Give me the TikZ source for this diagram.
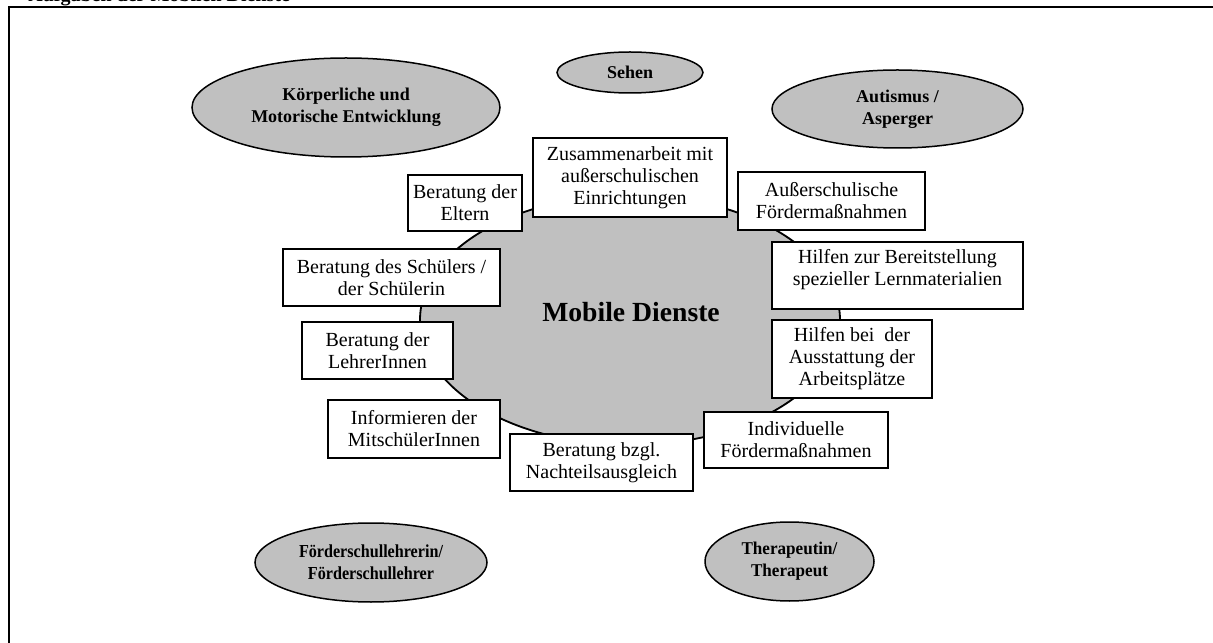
\documentclass[tikz,border=0pt]{standalone}
\usepackage{fontspec}
\setmainfont{Liberation Serif}
\newfontfamily\condA{Liberation Serif}[FakeStretch=0.88]
\newfontfamily\condB{Liberation Serif}[FakeStretch=0.95]
\usetikzlibrary{shapes.geometric}
\definecolor{fillgray}{RGB}{192,192,192}
\def\px{0.6pt}
\begin{document}
\begin{tikzpicture}[x=0.6pt,y=-0.6pt,
  box/.style={draw=black,line width=1.1pt,fill=white,rectangle,inner sep=0pt,align=center,
    font=\fontsize{12}{13.2}\selectfont},
  oval/.style={draw=black,line width=0.9pt,fill=fillgray,ellipse,inner sep=0pt,align=center,
    font=\fontsize{10.8}{13.4}\selectfont\bfseries},
  frame/.style={draw=black,line width=1.5pt}
]
\useasboundingbox (0,0) rectangle (1213,643);
% outer frame (runs beyond the page to the right and bottom)
\coordinate (fbl) at (9,700);
\coordinate (ftl) at (9,7);
\coordinate (ftr) at (1300,7);
\draw[frame] (fbl) -- (ftl) -- (ftr);
% clipped heading
\node (title) [anchor=base west,inner sep=0pt,font=\fontsize{12}{14}\selectfont\bfseries] at (28,2) {Aufgaben der Mobilen Dienste};

% outer ellipses
\node (koerper) [oval,minimum width=308*\px,minimum height=99*\px] at (346,107.5) {Körperliche und\\Motorische Entwicklung};
\node (sehen) [oval,minimum width=146*\px,minimum height=41*\px] at (630,72.5) {Sehen};
\node (autismus) [oval,minimum width=251*\px,minimum height=78*\px] at (897.5,109) {Autismus /\\Asperger};
\node (foerder) [oval,minimum width=232*\px,minimum height=79*\px,font=\fontsize{11}{13.4}\condA\bfseries] at (371,562.5) {Förderschullehrerin/\\Förderschullehrer};
\node (therapeut) [oval,minimum width=169*\px,minimum height=79*\px,font=\fontsize{10.8}{13.4}\condB\bfseries] at (789.5,561.5) {Therapeutin/\\Therapeut};

% central ellipse
\node (mobile) [draw=black,line width=1.1pt,fill=fillgray,ellipse,inner sep=0pt,minimum width=420*\px,minimum height=250*\px] at (630,320) {};
\node (mobiletxt) [inner sep=0pt,font=\fontsize{16.6}{20}\selectfont\bfseries] at (631,312) {Mobile Dienste};

% boxes
\node (zus) [box,minimum width=194*\px,minimum height=79*\px] at (630,177.5) {Zusammenarbeit mit\\außerschulischen\\Einrichtungen};
\node (eltern) [box,minimum width=114*\px,minimum height=56*\px] at (465,203) {Beratung der\\Eltern};
\node (ausser) [box,minimum width=187*\px,minimum height=58*\px] at (831.5,201) {Außerschulische\\Fördermaßnahmen};
\node (hilfenzur) [box,minimum width=251*\px,minimum height=67*\px,text depth=10pt] at (897.5,275.5) {Hilfen zur Bereitstellung\\spezieller Lernmaterialien};
\node (hilfenbei) [box,minimum width=160*\px,minimum height=78*\px] at (852,359) {Hilfen bei\ \ der\\Ausstattung der\\Arbeitsplätze};
\node (indiv) [box,minimum width=184*\px,minimum height=56*\px] at (796,440) {Individuelle\\Fördermaßnahmen};
\node (bzgl) [box,minimum width=183*\px,minimum height=57*\px] at (601.5,462.5) {Beratung bzgl.\\Nachteilsausgleich};
\node (info) [box,minimum width=172*\px,minimum height=58*\px] at (414,429) {Informieren der\\MitschülerInnen};
\node (lehrer) [box,minimum width=151*\px,minimum height=57*\px] at (377.5,350.5) {Beratung der\\LehrerInnen};
\node (schueler) [box,minimum width=217*\px,minimum height=57*\px] at (391.5,277.5) {Beratung des Schülers /\\der Schülerin};
\end{tikzpicture}
\end{document}
